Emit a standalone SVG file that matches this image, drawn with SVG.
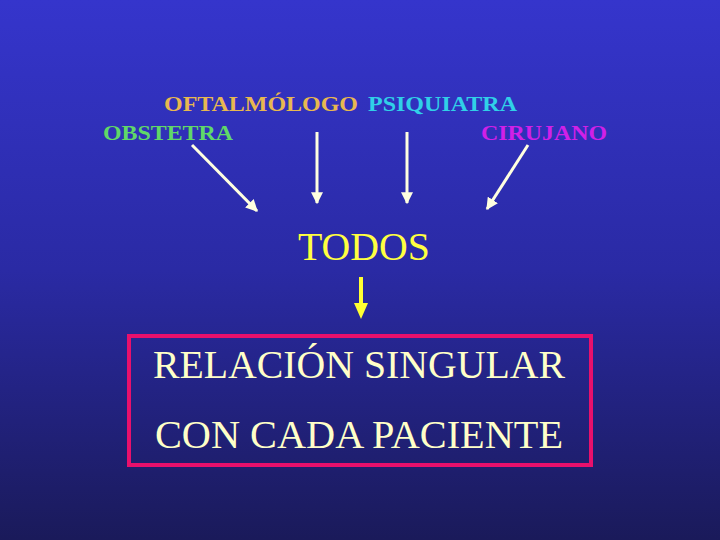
<svg xmlns="http://www.w3.org/2000/svg" width="720" height="540" viewBox="0 0 720 540">
<defs>
<linearGradient id="bg" x1="0" y1="0" x2="0" y2="1">
<stop offset="0" stop-color="#3535CC"/>
<stop offset="0.5" stop-color="#2A2AA4"/>
<stop offset="1" stop-color="#1A1A5A"/>
</linearGradient>
<marker id="wh" viewBox="0 0 10 10" refX="9" refY="5" markerWidth="4" markerHeight="4" orient="auto" markerUnits="strokeWidth">
<path d="M0,0 L10,5 L0,10 z" fill="#FFFFE0"/>
</marker>
<style>
text{font-family:'Liberation Serif','DejaVu Serif',serif}
.sm{font-size:22px;font-weight:bold}
.lg{font-size:40px}
.wa{stroke:#FFFFE0;stroke-width:3;fill:none;marker-end:url(#wh)}
</style>
</defs>
<rect width="720" height="540" fill="url(#bg)"/>
<g id="oftalmologo"><text class="sm" x="164" y="111" fill="#E8B850" textLength="194" lengthAdjust="spacingAndGlyphs">OFTALMÓLOGO</text></g>
<g id="psiquiatra"><text class="sm" x="368" y="111" fill="#30D0E8" textLength="149" lengthAdjust="spacingAndGlyphs">PSIQUIATRA</text></g>
<g id="obstetra"><text class="sm" x="103" y="140" fill="#60D868" textLength="130" lengthAdjust="spacingAndGlyphs">OBSTETRA</text></g>
<g id="cirujano"><text class="sm" x="481" y="140" fill="#D020E8" textLength="126" lengthAdjust="spacingAndGlyphs">CIRUJANO</text></g>
<g id="todos"><text class="lg" x="298" y="260" fill="#FFFF40" textLength="132" lengthAdjust="spacingAndGlyphs">TODOS</text></g>
<g id="relacion">
<rect x="129" y="336" width="462" height="129" fill="none" stroke="#E8106C" stroke-width="4"/>
<text class="lg" x="153" y="378" fill="#FFFFC8" textLength="412" lengthAdjust="spacingAndGlyphs">RELACIÓN SINGULAR</text>
<text class="lg" x="155" y="448" fill="#FFFFC8" textLength="408" lengthAdjust="spacingAndGlyphs">CON CADA PACIENTE</text>
</g>
<g id="connectors">
<line class="wa" x1="192" y1="145" x2="257" y2="211"/>
<line class="wa" x1="317" y1="132" x2="317" y2="203"/>
<line class="wa" x1="407" y1="132" x2="407" y2="203"/>
<line class="wa" x1="528" y1="145" x2="487" y2="209"/>
<line x1="361" y1="277" x2="361" y2="305" stroke="#FFFF33" stroke-width="4"/>
<path d="M354,303 L368,303 L361,319 z" fill="#FFFF33"/>
</g>
</svg>
